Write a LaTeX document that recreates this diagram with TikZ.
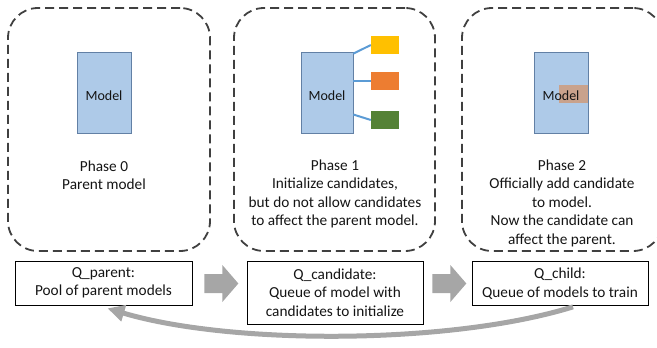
\documentclass[tikz,border=0pt]{standalone}
\usepackage{fontspec}
\setmainfont{Carlito}
\usetikzlibrary{arrows.meta,calc}

\definecolor{framegray}{RGB}{64,64,64}
\definecolor{modelfill}{RGB}{174,202,232}
\definecolor{modeledge}{RGB}{98,128,165}
\definecolor{linkblue}{RGB}{91,155,213}
\definecolor{candyellow}{RGB}{255,192,0}
\definecolor{candorange}{RGB}{237,125,49}
\definecolor{candgreen}{RGB}{84,130,53}
\definecolor{mergedfill}{RGB}{201,162,140}
\definecolor{flowgray}{RGB}{166,166,166}
\definecolor{textdark}{RGB}{20,20,20}

\begin{document}
\begin{tikzpicture}[x=1pt,y=-1pt,
  every node/.style={font=\fontsize{15.3}{18.5}\selectfont, text=textdark},
  phaseframe/.style={draw=framegray, line width=1.8pt, dash pattern=on 9pt off 5pt,
                     rounded corners=30pt, minimum height=243pt, inner sep=0pt},
  modelbox/.style={draw=modeledge, line width=0.7pt, fill=modelfill,
                   minimum width=54pt, minimum height=81pt, inner sep=0pt},
  modellabel/.style={font=\fontsize{14}{16}\selectfont, inner sep=0pt, yshift=-3pt},
  candbox/.style={minimum width=28pt, minimum height=18pt, inner sep=0pt},
  link/.style={draw=linkblue, line width=2pt},
  caption/.style={align=center, inner sep=0pt},
  queuebox/.style={draw=black, line width=0.7pt, align=center, minimum width=177pt,
                   minimum height=44pt, inner sep=0pt},
  blockarrow/.pic={\fill[flowgray] (0,-9.5) -- (18,-9.5) -- (18,-18.5) -- (34,0)
                   -- (18,18.5) -- (18,9.5) -- (0,9.5) -- cycle;}
]
\useasboundingbox (0,0) rectangle (657,348);
\clip (0,0) rectangle (657,348);

% dashed phase frames
\node[phaseframe, minimum width=202pt] (frame0) at (109,129.5) {};
\node[phaseframe, minimum width=201pt] (frame1) at (334.5,129.5) {};
\node[phaseframe, minimum width=201pt] (frame2) at (562.5,129.5) {};

% phase 0
\node[modelbox] (model0) at (104,92.5) {};
\node[modellabel] (model0text) at (model0.center) {Model};
\node[caption] (cap0) at (104,175) {Phase 0\\Parent model};

% phase 1
\node[modelbox, minimum width=52pt] (model1) at (327,92.5) {};
\node[modellabel] (model1text) at (model1.center) {Model};
\node[candbox, fill=candyellow] (cand1) at (385,45) {};
\node[candbox, fill=candorange] (cand2) at (385,81) {};
\node[candbox, fill=candgreen] (cand3) at (385,120) {};
\draw[link] (model1.north east) ++(0,2) -- (cand1.west);
\draw[link] (model1.east |- cand2.west) -- (cand2.west);
\draw[link] ($(model1.east)+(0,22)$) -- (cand3.west);
\node[caption] (cap1) at (335,194) {Phase 1\\Initialize candidates,\\but do not allow candidates\\to affect the parent model.};

% phase 2
\node[modelbox] (model2) at (561,92.5) {};
\node[inner sep=0pt, minimum width=29pt, minimum height=18pt, fill=mergedfill,
      anchor=east] (merged) at ($(model2.east)+(0,1.5)$) {};
\node[modellabel] (model2text) at (model2.center) {Model};
\node[caption] (cap2) at (562,203) {Phase 2\\Officially add candidate\\to model.\\Now the candidate can\\affect the parent.};

% queues
\node[queuebox] (qparent) at (103.5,283) {Q\_parent:\\Pool of parent models};
\node[queuebox, minimum width=176pt, minimum height=63pt] (qcandidate) at (335,292.5)
      {Q\_candidate:\\Queue of model with\\candidates to initialize};
\node[queuebox, minimum width=176pt] (qchild) at (560,283.5) {Q\_child:\\Queue of models to train};

% flow between queues
\pic at ($(qparent.east)+(12,0.5)$) {blockarrow};
\pic at ($(qcandidate.east |- qchild.west)+(9,0)$) {blockarrow};

% return path
\draw[flowgray, line width=5pt, -{Triangle[length=17pt, width=16pt]}]
  ([xshift=13pt, yshift=-1pt]qchild.south) .. controls (450,345) and (230,345) ..
  ([xshift=4pt, yshift=-3pt]qparent.south);
\end{tikzpicture}
\end{document}
